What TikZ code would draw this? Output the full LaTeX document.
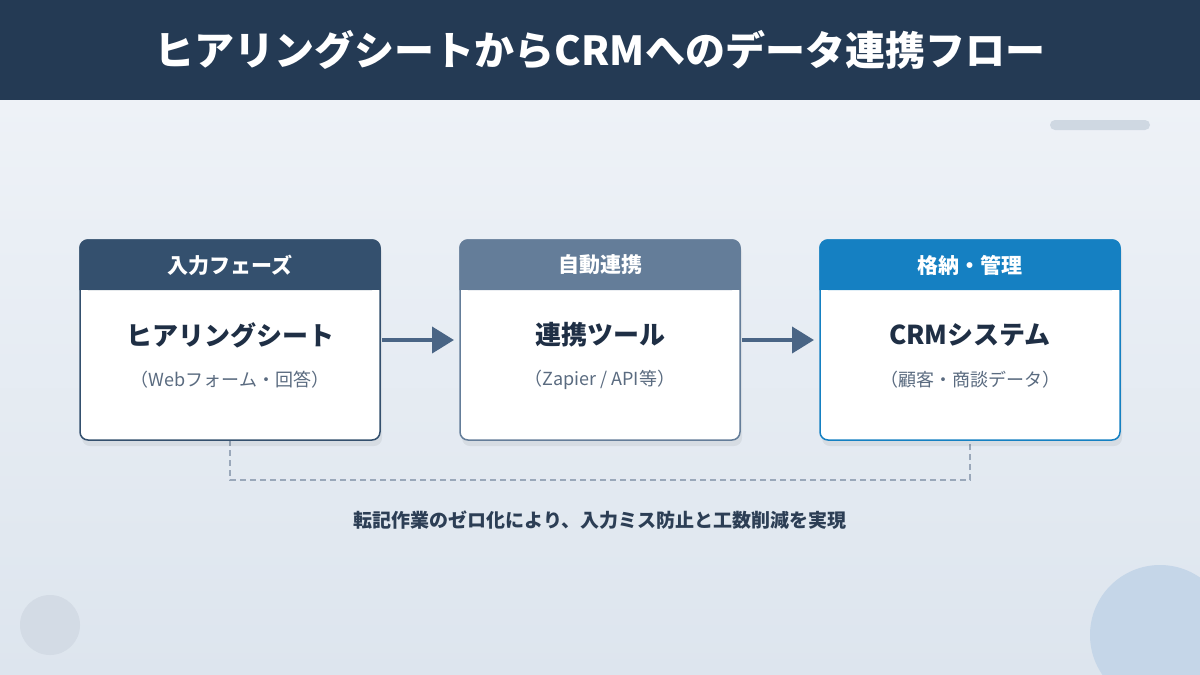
\documentclass[tikz,border=0pt]{standalone}
\usepackage{fontspec}
\setmainfont{Noto Sans CJK JP}
\usetikzlibrary{arrows.meta}
\definecolor{navy}{HTML}{243A54}
\definecolor{h1}{HTML}{34506E}
\definecolor{h2}{HTML}{647D99}
\definecolor{h3}{HTML}{1580C2}
\definecolor{tx}{HTML}{1F2F45}
\definecolor{sub}{HTML}{5A6B80}
\definecolor{arr}{HTML}{4A6585}
\definecolor{dashc}{HTML}{9AA8BA}
\begin{document}
\begin{tikzpicture}[x=1pt,y=-1pt,
  box/.style={draw=#1,line width=1.5pt,rounded corners=8pt,fill=white},
  ttl/.style={font=\bfseries\fontsize{26}{30}\selectfont,text=tx},
  sb/.style={font=\fontsize{18}{22}\selectfont,text=sub},
  hd/.style={font=\bfseries\fontsize{21}{24}\selectfont,text=white},
  ar/.style={draw=arr,line width=4pt,-{Triangle[length=22pt,width=26pt]}}]
\useasboundingbox (0,0) rectangle (1200,675);
\shade[top color={rgb,255:red,238;green,242;blue,247},bottom color={rgb,255:red,221;green,229;blue,238}] (0,100) rectangle (1200,675);
\fill[navy] (0,0) rectangle (1200,100);
\node[font=\bfseries\fontsize{40}{46}\selectfont,text=white] (title) at (600,50) {ヒアリングシートからCRMへのデータ連携フロー};
\fill[rounded corners=5pt,color={rgb,255:red,207;green,216;blue,226}] (1050,120) rectangle (1150,130);
\fill[color={rgb,255:red,211;green,219;blue,229}] (50,625) circle (30);
\begin{scope}
\clip (0,0) rectangle (1200,675);
\fill[color={rgb,255:red,197;green,214;blue,232}] (1160,635) circle (70);
\end{scope}
% dashed
\coordinate (d1) at (230,440); \coordinate (d2) at (970,440);
\draw[dashc,line width=1.5pt,dash pattern=on 6pt off 4pt] (d1) -- (230,480) -- (970,480) -- (d2);
% boxes
\foreach \x/\w/\c/\b [count=\i] in {80/300/h1/h1,460/280/h2/h2,820/300/h3/h3}{
  \fill[black,opacity=0.06,rounded corners=8pt] (\x+2,244) rectangle (\x+\w+2,446);
  \draw[box=\b] (\x,240) rectangle (\x+\w,440);
  \fill[\c,rounded corners=8pt] (\x,240) rectangle (\x+\w,290);
  \fill[\c] (\x,270) rectangle (\x+\w,290);
  \draw[\b,line width=1.5pt,rounded corners=8pt] (\x,290) -- (\x,240) -- (\x+\w,240) -- (\x+\w,290);
}
\node[hd] (hA) at (230,265) {入力フェーズ};
\node[hd] (hB) at (600,265) {自動連携};
\node[hd] (hC) at (970,265) {格納・管理};
\node[ttl] (A) at (230,335) {ヒアリングシート};
\node[sb] (a) at (230,380) {（Webフォーム・回答）};
\node[ttl] (B) at (600,335) {連携ツール};
\node[sb] (b) at (600,380) {（Zapier / API等）};
\node[ttl] (C) at (970,335) {CRMシステム};
\node[sb] (c) at (970,380) {（顧客・商談データ）};
\coordinate (a1) at (382,340); \coordinate (a2) at (454,340);
\coordinate (b1) at (742,340); \coordinate (b2) at (814,340);
\draw[ar] (a1) -- (a2);
\draw[ar] (b1) -- (b2);
\node[font=\bfseries\fontsize{19}{22}\selectfont,text={rgb,255:red,44;green,62;blue,85}] (note) at (600,520) {転記作業のゼロ化により、入力ミス防止と工数削減を実現};
\end{tikzpicture}
\end{document}
